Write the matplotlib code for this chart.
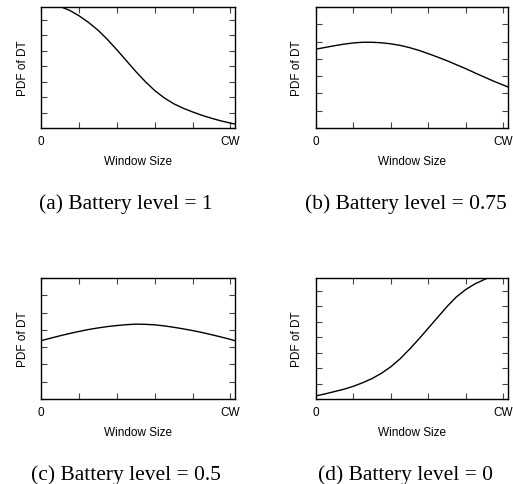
import matplotlib
matplotlib.use('Agg')
import matplotlib.pyplot as plt

plt.rc('font', family='Liberation Sans', size=8.5)

# Window size positions (0 ... CW), CW = 1
x = [0.0, 0.05, 0.10, 0.15, 0.20, 0.25, 0.30, 0.35, 0.40, 0.45, 0.50,
     0.55, 0.60, 0.65, 0.70, 0.75, 0.80, 0.85, 0.90, 0.95, 1.00, 1.023]

# PDF of DT (units = tick spacing)
pdf_a = [8.20, 8.05, 7.85, 7.60, 7.25, 6.82, 6.32, 5.72, 5.05, 4.35, 3.65,
         3.00, 2.42, 1.95, 1.57, 1.28, 1.04, 0.82, 0.63, 0.46, 0.32, 0.26]
pdf_b = [4.56, 4.66, 4.76, 4.85, 4.92, 4.96, 4.96, 4.93, 4.87, 4.78, 4.65,
         4.49, 4.30, 4.10, 3.89, 3.66, 3.43, 3.18, 2.94, 2.70, 2.48, 2.38]
pdf_c = [3.38, 3.52, 3.66, 3.79, 3.91, 4.02, 4.11, 4.19, 4.25, 4.30, 4.33,
         4.32, 4.29, 4.23, 4.15, 4.06, 3.96, 3.85, 3.72, 3.59, 3.45, 3.38]
pdf_d = [0.20, 0.33, 0.48, 0.63, 0.82, 1.05, 1.32, 1.66, 2.08, 2.60, 3.22,
         3.88, 4.58, 5.28, 5.98, 6.60, 7.08, 7.45, 7.73, 7.98, 8.15, 8.20]

captions = ['(a) Battery level = 1', '(b) Battery level = 0.75',
            '(c) Battery level = 0.5', '(d) Battery level = 0']
ytops = [7.82, 7.0, 7.0, 7.82]

W, H = 513, 485
fig = plt.figure(figsize=(W / 100, H / 100), dpi=100)

# axes boxes in pixels: left, top, right, bottom
boxes = [(41.3, 8, 234.7, 129), (315.7, 8, 507.7, 129),
         (41.3, 279, 234.7, 400), (315.7, 279, 507.7, 400)]
cap_pos = [(126, 209), (406, 209), (126, 480), (405, 480)]

for i, y in enumerate([pdf_a, pdf_b, pdf_c, pdf_d]):
    l, t, r, b = boxes[i]
    ax = fig.add_axes([l / W, 1 - b / H, (r - l) / W, (b - t) / H])
    ax.plot(x, y, color='black', linewidth=1.0)
    ax.set_xlim(0, 1.023)
    ax.set_ylim(0, ytops[i])
    ax.set_xticks([0, 0.2, 0.4, 0.6, 0.8, 1.0])
    ax.set_xticklabels(['0', '', '', '', '', 'CW'])
    ax.set_yticks(range(0, 8))
    ax.set_yticklabels([])
    ax.tick_params(direction='in', top=True, right=True, length=4,
                   width=0.8, color='#444444', pad=5)
    for s in ax.spines.values():
        s.set_linewidth(1.0)
    ax.set_xlabel('Window Size', labelpad=6)
    ax.set_ylabel('PDF of DT', labelpad=4)
    cx, cy = cap_pos[i]
    fig.text(cx / W, 1 - cy / H, captions[i], family='Liberation Serif',
             fontsize=15.5, ha='center', va='baseline')

plt.savefig('out.png', dpi=100)
